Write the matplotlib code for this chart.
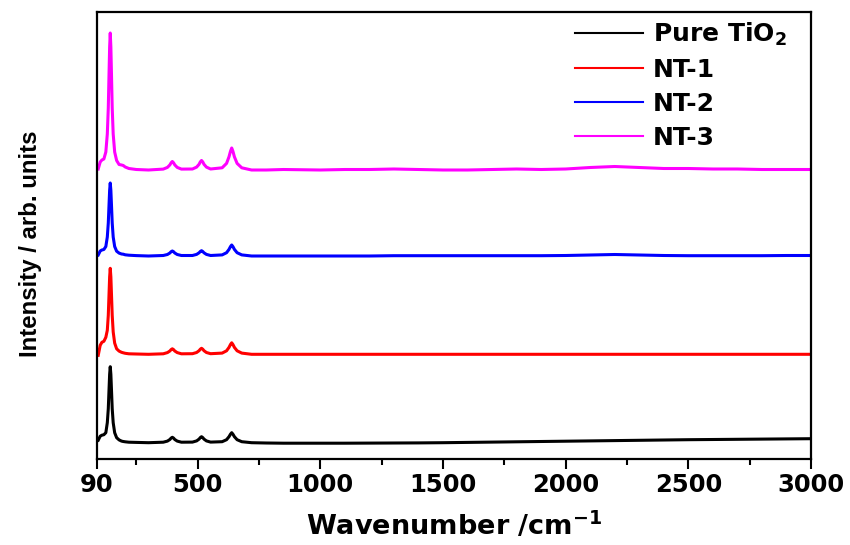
import numpy as np
import matplotlib
matplotlib.use("Agg")
import matplotlib.pyplot as plt
from matplotlib.ticker import FixedLocator

plt.rcParams['font.family'] = ['DejaVu Sans']
plt.rcParams['font.weight'] = 'bold'
plt.rcParams['mathtext.fontset'] = 'custom'
plt.rcParams['mathtext.rm'] = 'DejaVu Sans:bold'
plt.rcParams['mathtext.default'] = 'rm'

# Raman shift grid (cm^-1), denser around the anatase bands
wavenumber = [95, 103, 110, 118, 126, 132, 136, 139, 141.5, 144, 146.5, 149, 152, 156, 162, 170, 180, 190, 197, 205, 220, 250, 300,
              360, 377, 387, 392, 397, 402, 407, 417, 434,
              479, 496, 506, 511, 516, 521, 526, 536, 553,
              600, 618, 628, 634, 639, 644, 650, 661, 680,
              720, 780, 850, 1000, 1100, 1200, 1300, 1400, 1500, 1600, 1700, 1800, 1900, 2000,
              2100, 2200, 2300, 2400, 2500, 2600, 2700, 2800, 2900, 3000]

# intensities above each trace's own baseline (arb. units)
pure_tio2 = [2.5, 6.5, 7.5, 8, 10, 20, 34, 53, 68.4, 76, 68.4, 53, 34, 20, 10, 5, 2.8, 1.6, 1.2, 0.9, 0.5, 0.3, 0,
             0.5, 1.6, 3.2, 4.6, 5.4, 4.6, 3.2, 1.6, 0.5,
             0.6, 1.8, 3.6, 5.1, 6.0, 5.1, 3.6, 1.8, 0.6,
             1.0, 3.0, 6.0, 8.5, 10, 8.5, 6.0, 3.0, 1.0,
             0, -0.3, -0.5, -0.5, -0.5, -0.4, -0.3, -0.2, 0, 0.3, 0.6, 0.9, 1.2, 1.5,
             1.8, 2.1, 2.4, 2.7, 3.0, 3.2, 3.4, 3.6, 3.8, 4.0]
nt1 = [-1, 9, 12, 13, 17, 24, 39, 60, 77.4, 86, 77.4, 60, 39, 22.4, 11.2, 5.5, 3.2, 2, 1.5, 1, 0.5, 0.3, 0,
       0.5, 1.7, 3.3, 4.7, 5.5, 4.7, 3.3, 1.7, 0.5,
       0.6, 1.8, 3.6, 5.1, 6.0, 5.1, 3.6, 1.8, 0.6,
       1.2, 3.5, 6.9, 9.8, 11.5, 9.8, 6.9, 3.5, 1.2,
       0, 0, 0, 0, 0, 0, 0, 0, 0, 0, 0, 0, 0, 0,
       0, 0, 0, 0, 0, 0, 0, 0, 0, 0]
nt2 = [1, 5, 6, 6.5, 9.5, 19, 33, 51, 65.7, 73, 65.7, 51, 33, 19, 9.5, 4.8, 2.9, 2, 1.8, 1.2, 0.8, 0.4, 0,
       0.5, 1.5, 3.0, 4.3, 5.0, 4.3, 3.0, 1.5, 0.5,
       0.5, 1.6, 3.2, 4.5, 5.3, 4.5, 3.2, 1.6, 0.5,
       1.1, 3.3, 6.6, 9.4, 11, 9.4, 6.6, 3.3, 1.1,
       0, 0, 0, 0, 0, 0, 0.3, 0.3, 0.3, 0.3, 0.3, 0.3, 0.3, 0.5,
       1, 1.5, 1, 0.5, 0.3, 0.3, 0.3, 0.3, 0.5, 0.5]
nt3 = [1, 8, 10, 11, 18, 36, 62, 96, 123, 137, 123, 96, 62, 36, 18, 9.5, 5.5, 5, 4.5, 3, 1.5, 0.5, 0,
       0.9, 2.6, 5.1, 7.2, 8.5, 7.2, 5.1, 2.6, 0.9,
       1.0, 2.9, 5.7, 8.1, 9.5, 8.1, 5.7, 2.9, 1.0,
       2.2, 6.6, 13.2, 18.7, 22, 18.7, 13.2, 6.6, 2.2,
       0, 0, 0.5, 0, 0.5, 0.5, 1, 0.5, 0, 0, 0.5, 1, 0.5, 1,
       2.5, 3.5, 2.5, 1.5, 1.5, 1, 1, 0.5, 0.5, 0.5]

labels = ['Pure TiO$_2$', 'NT-1', 'NT-2', 'NT-3']
colors = ['black', '#ff0000', '#0000ff', '#ff00ff']
# vertical stacking of the traces
offsets = [16.3, 104.7, 203, 289]

fig = plt.figure(figsize=(8.5, 5.45), dpi=100)
ax = fig.add_axes([97 / 850, 86 / 545, 714 / 850, 447 / 545])

for y, lab, c, off in zip([pure_tio2, nt1, nt2, nt3], labels, colors, offsets):
    ax.plot(wavenumber, np.array(y) + off, color=c, lw=2.2, label=lab)

ax.set_xlim(90, 3000)
ax.set_ylim(0, 447)
ax.xaxis.set_major_locator(FixedLocator([90, 500, 1000, 1500, 2000, 2500, 3000]))
ax.xaxis.set_minor_locator(FixedLocator([250, 750, 1250, 1750, 2250, 2750]))
ax.set_yticks([])
ax.tick_params(axis='x', which='major', direction='out', length=7, width=1.5, labelsize=17.5, pad=3)
ax.tick_params(axis='x', which='minor', direction='out', length=4, width=1.5)
for s in ax.spines.values():
    s.set_linewidth(1.6)

ax.set_xlabel('Wavenumber /cm$^{-1}$', fontsize=19.5, fontweight='bold', labelpad=10)
ax.set_ylabel('Intensity / arb. units', fontsize=17.3, fontweight='bold',
              family=['Liberation Sans', 'DejaVu Sans'])
ax.yaxis.set_label_coords(-0.077, 0.482)

leg = ax.legend(loc='upper right', bbox_to_anchor=(0.99, 1.02), frameon=False, fontsize=18,
                handlelength=2.7, handletextpad=0.4, labelspacing=0.4, borderaxespad=0.3)
for ln in leg.get_lines():
    ln.set_linewidth(1.5)

fig.savefig('out.png', dpi=100)
